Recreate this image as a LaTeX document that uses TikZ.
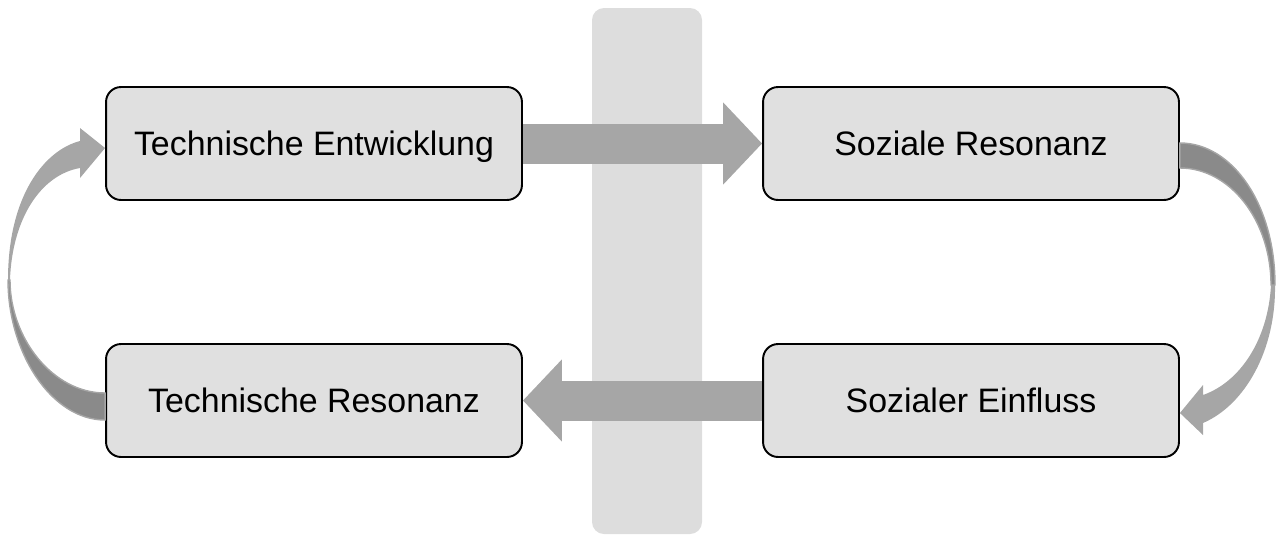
\documentclass[tikz,border=0pt]{standalone}
\usepackage{fontspec}
\setmainfont{Liberation Sans}
\usetikzlibrary{arrows.meta,calc}
\definecolor{bandgray}{HTML}{DDDDDD}
\definecolor{boxgray}{HTML}{E0E0E0}
\definecolor{arrowgray}{HTML}{A6A6A6}
\definecolor{ribbondark}{HTML}{8A8A8A}

\begin{document}
\begin{tikzpicture}[x=0.02cm,y=-0.02cm,>=Latex,
  stage/.style={draw=black,line width=1.1pt,rounded corners=0.3cm,fill=boxgray,minimum width=8.32cm,minimum height=2.26cm,align=center,font=\fontsize{19.3}{23}\selectfont,text height=13.8pt,text depth=0pt,inner sep=2pt},
  flow/.style={arrowgray,line width=0.8cm,-{Triangle[length=0.78cm,width=1.6cm]}},
  ribbonlight/.style={fill=arrowgray,draw=none},
  ribbonback/.style={fill=ribbondark,draw=arrowgray,line width=0.8pt}]
\useasboundingbox (0,0) rectangle (1277,535);
% middle band
\fill[bandgray,rounded corners=0.24cm] (592,8) rectangle (702,534);
\node[stage] (te) at (314,143.5) {Technische Entwicklung};
\node[stage] (sr) at (971,143.5) {Soziale Resonanz};
\node[stage] (tr) at (314,400.5) {Technische Resonanz};
\node[stage] (se) at (971,400.5) {Sozialer Einfluss};
% straight arrows
\draw[flow] (te.east) -- (sr.west);
\draw[flow] (se.west) -- (tr.west -| te.east);
% left ribbon: Technische Resonanz -> Technische Entwicklung
\path[ribbonback] ($(tr.west)+(0,-7.5)$) .. controls (52.6,393) and (10,338) .. (10,280)
  -- (8,280) .. controls (8,352.8) and (51.5,420) .. ($(tr.west)+(0,19.5)$) -- cycle;
\path[ribbonlight] (8,280) .. controls (8,195) and (45,150) .. (80,141) -- (80,128)
  -- ($(te.west)+(0,4.5)$) -- (80,178) -- (80,168) .. controls (40,175) and (12,220) .. (10,280) -- cycle;
% right ribbon: Soziale Resonanz -> Sozialer Einfluss
\path[ribbonback] ($(sr.east)+(0,-0.5)$) .. controls (1232.4,143) and (1275,204.4) .. (1275,285)
  -- (1271,285) .. controls (1271,220.4) and (1230,168) .. ($(sr.east)+(0,24.5)$) -- cycle;
\path[ribbonlight] (1275,285) .. controls (1276,350) and (1245,405) .. (1203,423) -- (1203,435)
  -- ($(se.east)+(0,12.5)$) -- (1203,385) -- (1203,395) .. controls (1240,382) and (1268,340) .. (1271,285) -- cycle;
\end{tikzpicture}
\end{document}
